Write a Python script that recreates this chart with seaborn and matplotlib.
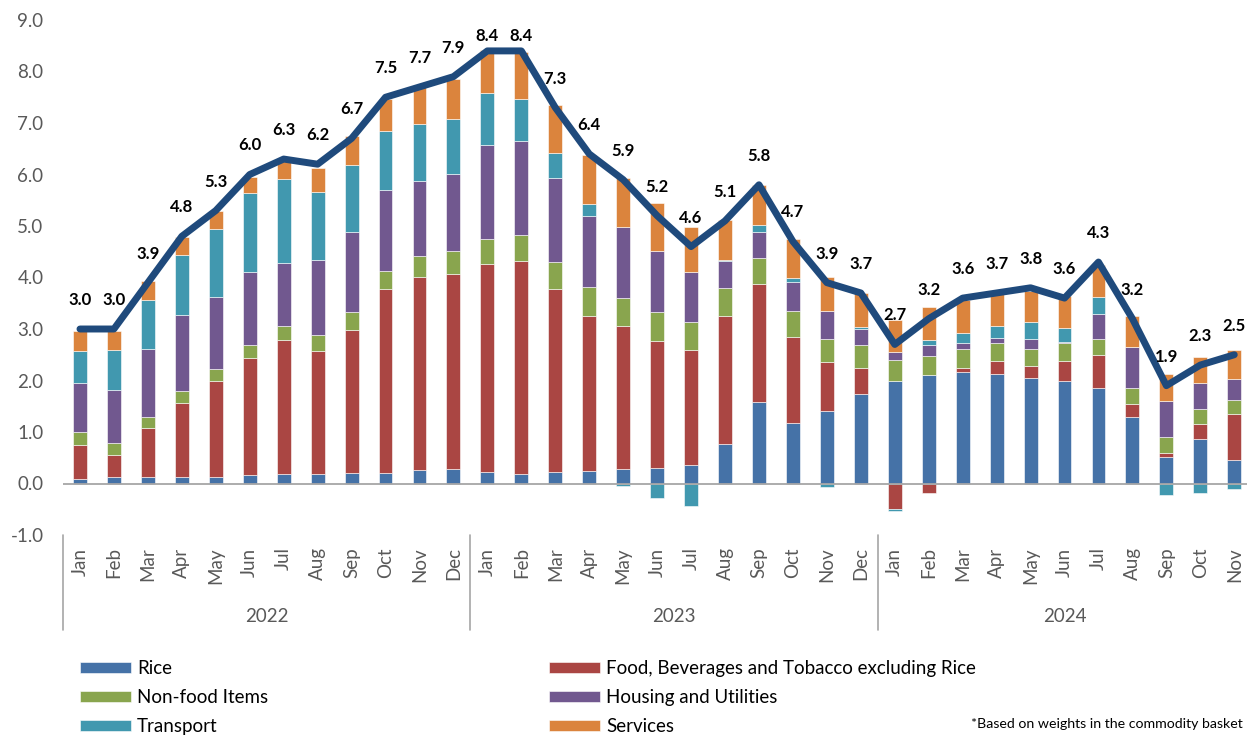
import numpy as np
import pandas as pd
import matplotlib
matplotlib.use("Agg")
import matplotlib.pyplot as plt
import matplotlib.transforms as mtransforms
from matplotlib.lines import Line2D
import seaborn as sns

# ---------------- data ----------------
months = ["Jan", "Feb", "Mar", "Apr", "May", "Jun", "Jul", "Aug", "Sep", "Oct", "Nov", "Dec",
          "Jan", "Feb", "Mar", "Apr", "May", "Jun", "Jul", "Aug", "Sep", "Oct", "Nov", "Dec",
          "Jan", "Feb", "Mar", "Apr", "May", "Jun", "Jul", "Aug", "Sep", "Oct", "Nov"]
years = ["2022", "2023", "2024"]
year_lengths = [12, 12, 11]

headline = [3.0, 3.0, 3.9, 4.8, 5.3, 6.0, 6.3, 6.2, 6.7, 7.5, 7.7, 7.9,
            8.4, 8.4, 7.3, 6.4, 5.9, 5.2, 4.6, 5.1, 5.8, 4.7, 3.9, 3.7,
            2.7, 3.2, 3.6, 3.7, 3.8, 3.6, 4.3, 3.2, 1.9, 2.3, 2.5]

rice = [0.08, 0.13, 0.13, 0.13, 0.12, 0.17, 0.19, 0.19, 0.21, 0.21, 0.27, 0.29,
        0.23, 0.19, 0.22, 0.24, 0.29, 0.31, 0.36, 0.77, 1.58, 1.17, 1.40, 1.73,
        2.00, 2.10, 2.16, 2.12, 2.04, 1.99, 1.85, 1.30, 0.51, 0.86, 0.45]
food = [0.67, 0.42, 0.94, 1.43, 1.88, 2.26, 2.60, 2.39, 2.78, 3.56, 3.74, 3.78,
        4.04, 4.13, 3.55, 3.02, 2.76, 2.46, 2.24, 2.49, 2.29, 1.67, 0.95, 0.51,
        -0.50, -0.18, 0.09, 0.25, 0.24, 0.39, 0.64, 0.24, 0.08, 0.30, 0.90]
nonfood = [0.25, 0.23, 0.23, 0.23, 0.23, 0.26, 0.27, 0.31, 0.34, 0.36, 0.40, 0.44,
           0.47, 0.50, 0.54, 0.55, 0.55, 0.56, 0.54, 0.53, 0.51, 0.51, 0.46, 0.44,
           0.40, 0.38, 0.37, 0.36, 0.34, 0.35, 0.32, 0.31, 0.31, 0.28, 0.27]
housing = [0.95, 1.03, 1.32, 1.48, 1.39, 1.41, 1.22, 1.45, 1.55, 1.57, 1.47, 1.50,
           1.84, 1.84, 1.62, 1.38, 1.39, 1.19, 0.96, 0.53, 0.51, 0.56, 0.53, 0.32,
           0.15, 0.20, 0.10, 0.09, 0.18, 0.01, 0.49, 0.81, 0.70, 0.51, 0.41]
transport = [0.63, 0.79, 0.94, 1.17, 1.33, 1.54, 1.63, 1.32, 1.31, 1.14, 1.11, 1.06,
             1.00, 0.81, 0.48, 0.23, -0.05, -0.28, -0.43, 0.02, 0.12, 0.08, -0.07, 0.04,
             -0.03, 0.10, 0.20, 0.23, 0.33, 0.27, 0.33, 0.00, -0.22, -0.18, -0.10]
services = [0.38, 0.36, 0.37, 0.35, 0.34, 0.32, 0.35, 0.47, 0.55, 0.63, 0.71, 0.79,
            0.83, 0.91, 0.93, 0.96, 0.94, 0.92, 0.89, 0.78, 0.78, 0.75, 0.67, 0.66,
            0.62, 0.64, 0.65, 0.65, 0.61, 0.63, 0.61, 0.60, 0.53, 0.50, 0.57]

series_names = ["Rice", "Food, Beverages and Tobacco excluding Rice", "Non-food Items",
                "Housing and Utilities", "Transport", "Services"]
series_values = [rice, food, nonfood, housing, transport, services]
colors = ["#4572A7", "#AA4643", "#89A54E", "#71588F", "#4198AF", "#DB843D"]
footnote = "*Based on weights in the commodity basket"

# ---------------- style ----------------
sns.set_theme(style="white")
plt.rcParams["font.family"] = ["Lato", "DejaVu Sans"]
TXT = "#595959"
FS = 13.5

W, H = 1247, 735
fig = plt.figure(figsize=(W / 100, H / 100), dpi=100)
ax_left, ax_right, ax_top, ax_bot = 63, 1247, 20, 535
ax = fig.add_axes([ax_left / W, 1 - ax_bot / H, (ax_right - ax_left) / W, (ax_bot - ax_top) / H])

n = len(months)
x = np.arange(n)
pos_bottom = np.zeros(n)
neg_bottom = np.zeros(n)
handles = []
for name, vals, col in zip(series_names, series_values, colors):
    v = np.array(vals, dtype=float)
    bottoms = np.where(v >= 0, pos_bottom, neg_bottom)
    bc = ax.bar(x, v, width=0.41, bottom=bottoms, color=col, edgecolor="white",
                linewidth=0.4, label=name, zorder=2)
    handles.append(bc)
    pos_bottom += np.clip(v, 0, None)
    neg_bottom += np.clip(v, None, 0)

ax.axhline(0, color="#A6A6A6", lw=1.3, zorder=2.5)

line_df = pd.DataFrame({"x": x, "headline": headline})
sns.lineplot(data=line_df, x="x", y="headline", ax=ax, color="#1F4A7C", lw=5,
             zorder=4, solid_capstyle="round", solid_joinstyle="round", legend=False)
if ax.get_legend() is not None:
    ax.get_legend().remove()

for xi, v in zip(x, headline):
    off = 15 if v >= 8.2 else 29
    ax.annotate(f"{v:.1f}", xy=(xi, v), xytext=(0, off), textcoords="offset pixels",
                ha="center", va="center", fontsize=12, fontweight="bold",
                color="black", zorder=5)

# axes
ax.set_xlim(-0.5, -0.5 + (ax_right - ax_left) / 33.95)
ax.set_ylim(-1, 9)
ax.set_yticks(np.arange(-1, 10, 1))
ax.set_yticklabels([f"{t:.1f}" for t in np.arange(-1, 10, 1)], fontsize=FS, color=TXT)
ax.set_xticks(x)
ax.set_xticklabels(months, rotation=90, fontsize=FS, color=TXT)
ax.tick_params(axis="x", length=0, pad=9.0)
ax.tick_params(axis="y", length=0, pad=14)
ax.set_xlabel("")
ax.set_ylabel("")
for s in ax.spines.values():
    s.set_visible(False)
ax.grid(False)

# year separators and labels
ax_h_px = ax_bot - ax_top
trans = mtransforms.blended_transform_factory(ax.transData, ax.transAxes)
bounds = np.concatenate([[0], np.cumsum(year_lengths)])
for b in bounds:
    ax.add_line(Line2D([b - 0.5, b - 0.5], [0, -95 / ax_h_px], transform=trans,
                       color="#A6A6A6", lw=1.2, clip_on=False))
for i, yr in enumerate(years):
    cx = (bounds[i] + bounds[i + 1] - 1) / 2
    ax.text(cx, -81 / ax_h_px, yr, transform=trans, ha="center", va="center",
            fontsize=FS, color=TXT)

# legend (two columns)
leg_kw = dict(loc="upper left", frameon=False, fontsize=FS, handlelength=2.72,
              handleheight=0.585, handletextpad=0.32, borderpad=0, borderaxespad=0,
              labelspacing=0.64, labelcolor="black")
l1 = fig.legend([handles[i] for i in (0, 2, 4)], [series_names[i] for i in (0, 2, 4)],
                bbox_to_anchor=(80 / W, 1 - 660 / H), **leg_kw)
l2 = fig.legend([handles[i] for i in (1, 3, 5)], [series_names[i] for i in (1, 3, 5)],
                bbox_to_anchor=(549 / W, 1 - 660 / H), **leg_kw)

fig.text(1243 / W, 1 - 724 / H, footnote, ha="right", va="center", fontsize=10.2, color="black")

fig.savefig("out.png", dpi=100)
